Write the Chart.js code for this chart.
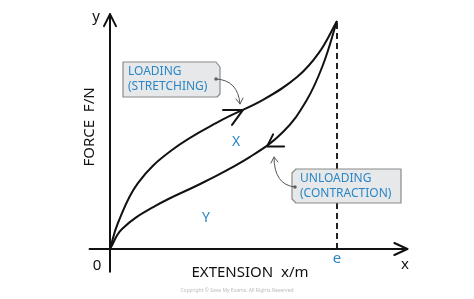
<!DOCTYPE html>
<html>
<head>
<meta charset="utf-8">
<script src="https://cdn.jsdelivr.net/npm/chart.js@4"></script>
<style>
  html, body { margin: 0; padding: 0; background: #fff; }
  #wrap { width: 474px; height: 299px; }
</style>
</head>
<body>
<div id="wrap"><canvas id="chart"></canvas></div>
<script>
// extension in units where e = 10, force in units where peak = 10
const extensionE = 10;
const peakForce = 10;

const loadX = [0, 0.35, 1.23, 2.73, 4.93, 6.74, 8.24, 9.2, 10];
const loadY = [0, 1.14, 2.89, 4.34, 5.66, 6.54, 7.54, 8.6, 10];

const unloadX = [0, 0.53, 1.98, 4.19, 6.17, 7.62, 8.65, 9.38, 10];
const unloadY = [0, 0.88, 1.88, 2.96, 4.04, 5.13, 6.5, 8.07, 10];

const axisTitles = ["EXTENSION  x/m", "FORCE  F/N"];
const axisLetters = ["x", "y", "0", "e"];
const regionLabels = ["X", "Y"];
const loadingNote = ["LOADING", "(STRETCHING)"];
const unloadingNote = ["UNLOADING", "(CONTRACTION)"];

const toPts = (xs, ys) => xs.map((x, i) => ({ x, y: ys[i] }));

const blue = "#2a86c6";
const font = '"Noto Sans", "DejaVu Sans", sans-serif';

const drawing = {
  id: "drawing",
  afterDatasetsDraw(chart) {
    const { ctx, scales } = chart;
    const px = (v) => scales.x.getPixelForValue(v);
    const py = (v) => scales.y.getPixelForValue(v);
    const x0 = px(0), y0 = py(0);

    ctx.save();
    ctx.strokeStyle = "#111";
    ctx.lineWidth = 2;
    ctx.lineCap = "round";
    ctx.lineJoin = "round";

    // axes
    ctx.beginPath();
    ctx.moveTo(x0, py(-1.0));
    ctx.lineTo(x0, py(10.3));
    ctx.moveTo(px(-0.9), y0);
    ctx.lineTo(px(13.1), y0);
    ctx.stroke();
    const yt = py(10.3), xt = px(13.1);
    ctx.beginPath();
    ctx.moveTo(x0 - 6, yt + 12); ctx.lineTo(x0, yt); ctx.lineTo(x0 + 6, yt + 12);
    ctx.moveTo(xt - 13, y0 - 6); ctx.lineTo(xt, y0); ctx.lineTo(xt - 13, y0 + 6);
    ctx.stroke();

    // arrowheads along curves
    const head = (tx, ty, a, b) => {
      ctx.beginPath();
      ctx.moveTo(tx + a[0], ty + a[1]);
      ctx.lineTo(tx, ty);
      ctx.lineTo(tx + b[0], ty + b[1]);
      ctx.stroke();
    };
    head(px(5.86), py(6.1), [-20, 0], [-11, 15]);
    head(px(6.92), py(4.5), [17, 0], [6, -12]);

    // text
    ctx.textAlign = "center";
    ctx.textBaseline = "middle";
    ctx.fillStyle = "#111";
    ctx.font = "15px " + font;
    ctx.fillText(axisTitles[0], 250, 273);
    ctx.fillText(axisLetters[0], 405, 265);
    ctx.fillText(axisLetters[1], 96, 17);
    ctx.fillText(axisLetters[2], 97, 266);
    ctx.save();
    ctx.translate(90, 127);
    ctx.rotate(-Math.PI / 2);
    ctx.fillText(axisTitles[1], 0, 0);
    ctx.restore();

    ctx.fillStyle = blue;
    ctx.fillText(axisLetters[3], px(extensionE), 259);
    ctx.font = "14px " + font;
    ctx.fillText(regionLabels[0], 236, 142);
    ctx.fillText(regionLabels[1], 206, 218);

    ctx.fillStyle = "#bbb";
    ctx.font = "5px " + font;
    ctx.fillText("Copyright © Save My Exams. All Rights Reserved", 237, 291);

    // callout tags
    const tag = (pts, lines, tx, ty1, ty2) => {
      ctx.beginPath();
      pts.forEach((p, i) => (i ? ctx.lineTo(p[0], p[1]) : ctx.moveTo(p[0], p[1])));
      ctx.closePath();
      ctx.fillStyle = "#e7e8e9";
      ctx.fill();
      ctx.strokeStyle = "#8a8a8a";
      ctx.lineWidth = 1.2;
      ctx.stroke();
      ctx.fillStyle = blue;
      ctx.font = "12px " + font;
      ctx.textAlign = "left";
      ctx.fillText(lines[0], tx, ty1);
      ctx.fillText(lines[1], tx, ty2);
    };
    tag([[123, 62], [216, 62], [220, 67], [220, 94], [217, 97], [123, 97]], loadingNote, 128, 72, 87);
    tag([[296, 169], [401, 169], [401, 203], [296, 203], [292, 199], [292, 173]], unloadingNote, 300, 179, 194);

    // leaders
    const leader = (sx, sy, cx, cy, ex, ey, a, b) => {
      ctx.fillStyle = "#666";
      ctx.beginPath();
      ctx.arc(sx, sy, 1.8, 0, Math.PI * 2);
      ctx.fill();
      ctx.strokeStyle = "#555";
      ctx.lineWidth = 1;
      ctx.beginPath();
      ctx.moveTo(sx, sy);
      ctx.quadraticCurveTo(cx, cy, ex, ey);
      ctx.moveTo(ex + a[0], ey + a[1]);
      ctx.lineTo(ex, ey);
      ctx.lineTo(ex + b[0], ey + b[1]);
      ctx.stroke();
    };
    leader(216, 79, 238, 80, 240, 104, [-4, -5], [3, -6]);
    leader(295, 187, 274, 185, 274, 157, [-3, 6], [4, 5]);

    ctx.restore();
  },
};

new Chart(document.getElementById("chart"), {
  type: "scatter",
  data: {
    datasets: [
      {
        label: "Loading",
        data: toPts(loadX, loadY),
        showLine: true,
        borderColor: "#111",
        borderWidth: 2,
        pointRadius: 0,
        tension: 0.4,
      },
      {
        label: "Unloading",
        data: toPts(unloadX, unloadY),
        showLine: true,
        borderColor: "#111",
        borderWidth: 2,
        pointRadius: 0,
        tension: 0.4,
      },
      {
        label: "e",
        data: [{ x: extensionE, y: 0 }, { x: extensionE, y: peakForce }],
        showLine: true,
        borderColor: "#222",
        borderWidth: 2,
        borderDash: [6, 4],
        pointRadius: 0,
      },
    ],
  },
  options: {
    responsive: true,
    maintainAspectRatio: false,
    animation: false,
    layout: { padding: 0 },
    plugins: { legend: { display: false }, tooltip: { enabled: false } },
    scales: {
      x: { type: "linear", display: false, min: -110 / 22.7, max: 364 / 22.7 },
      y: { type: "linear", display: false, min: -50 / 22.8, max: 249 / 22.8 },
    },
  },
  plugins: [drawing],
});
</script>
</body>
</html>
